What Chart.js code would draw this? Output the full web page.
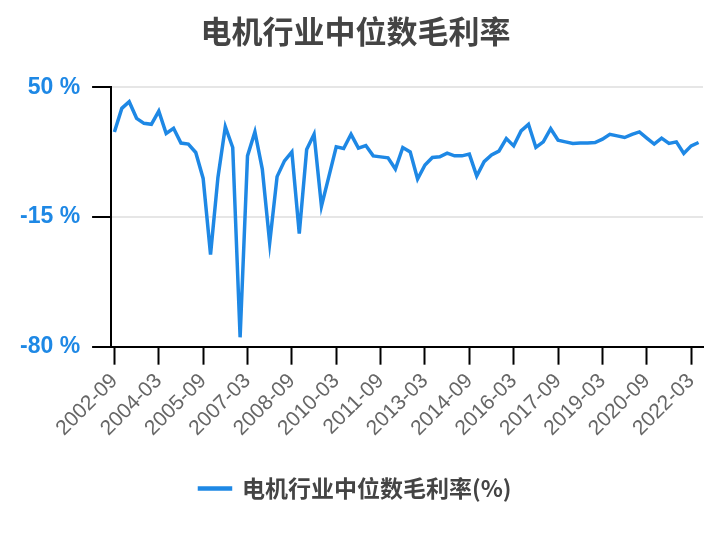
<!DOCTYPE html>
<html>
<head>
<meta charset="utf-8">
<script src="https://cdn.jsdelivr.net/npm/chart.js@4/dist/chart.umd.min.js"></script>
<style>
    html, body { margin: 0; padding: 0; background: #fff; }
    #wrap { width: 724px; height: 540px; position: relative; }
</style>
</head>
<body>
<div id="wrap"><canvas id="marginChart"></canvas></div>
<script>
// 季度标签: 2002-09 ... 2022-06
const quarters = []
for (let y = 2002; y <= 2022; y++) {
    ['03', '06', '09', '12'].forEach(m => {
        const key = y + '-' + m
        if (key >= '2002-09' && key <= '2022-06') quarters.push(key)
    })
}

const grossMargin = [
    27.6, 39.4, 42.7, 34.4, 31.9, 31.4, 38.0, 26.8, 29.4, 22.0,
    21.5, 17.3, 4.3, -33.8, 4.8, 30.2, 19.8, -75.3, 15.6, 27.6,
    9.0, -28.0, 5.2, 13.1, 17.6, -23.4, 18.8, 26.4, -9.6, 5.2,
    20.1, 19.3, 26.4, 19.5, 20.8, 15.6, 15.1, 14.6, 9.0, 19.8,
    17.6, 4.0, 11.0, 14.8, 15.1, 17.0, 15.6, 15.6, 16.5, 5.5,
    12.7, 16.0, 18.0, 24.3, 20.6, 28.1, 31.4, 19.8, 22.6, 29.2,
    23.4, 22.6, 21.8, 22.0, 22.1, 22.3, 24.0, 26.4, 25.6, 24.8,
    26.4, 27.6, 24.5, 21.5, 24.5, 21.8, 22.6, 16.8, 20.6, 22.3
]

const yTicks = [-80, -15, 50]
const xTickIdx = [0, 6, 12, 18, 24, 30, 36, 42, 48, 54, 60, 66, 72, 78]

const BLUE = '#1e88e5'
const CJK = '"Noto Sans CJK SC", "Liberation Sans", sans-serif'
const LATIN = '"Liberation Sans", Arial, sans-serif'

const ctx = document.getElementById('marginChart').getContext('2d')

new Chart(ctx, {
    type: 'line',
    data: {
        datasets: [{
            label: '电机行业中位数毛利率(%)',
            data: grossMargin.map((v, i) => ({ x: i, y: v })),
            borderColor: BLUE,
            backgroundColor: BLUE,
            borderWidth: 3.5,
            pointRadius: 0,
            tension: 0
        }]
    },
    options: {
        responsive: true,
        maintainAspectRatio: false,
        animation: false,
        layout: { padding: { top: 0, left: 8, right: 21, bottom: 30 } },
        scales: {
            x: {
                type: 'linear',
                min: -0.45,
                max: 79.6,
                afterBuildTicks: scale => {
                    scale.ticks = xTickIdx.map(v => ({ value: v }))
                },
                afterFit: scale => { scale.height += 22 },
                ticks: {
                    autoSkip: false,
                    minRotation: 45,
                    maxRotation: 45,
                    padding: 4,
                    color: '#666',
                    font: { family: LATIN, size: 21 },
                    callback: v => quarters[v]
                },
                grid: {
                    drawOnChartArea: false,
                    tickColor: '#000',
                    tickLength: 18,
                    tickWidth: 2
                },
                border: { display: true, color: '#000', width: 2 }
            },
            y: {
                min: -80,
                max: 50,
                afterBuildTicks: scale => {
                    scale.ticks = yTicks.map(v => ({ value: v }))
                },
                ticks: {
                    padding: 12,
                    color: BLUE,
                    font: { family: LATIN, size: 23, weight: 'bold' },
                    callback: v => v + ' %'
                },
                grid: {
                    color: '#e6e6e6',
                    lineWidth: 2,
                    tickColor: '#000',
                    tickLength: 19,
                    tickWidth: 2
                },
                border: { display: true, color: '#000', width: 2 }
            }
        },
        plugins: {
            title: {
                display: true,
                text: '电机行业中位数毛利率',
                color: '#444',
                font: { family: CJK, size: 31, weight: 'bold' },
                padding: { top: 13, bottom: 37 }
            },
            legend: {
                display: true,
                position: 'bottom',
                labels: {
                    color: '#444',
                    boxWidth: 31,
                    boxHeight: 1,
                    padding: 10,
                    font: { family: CJK, size: 23, weight: 'bold' }
                }
            },
            tooltip: { enabled: false }
        }
    }
})
</script>
</body>
</html>
